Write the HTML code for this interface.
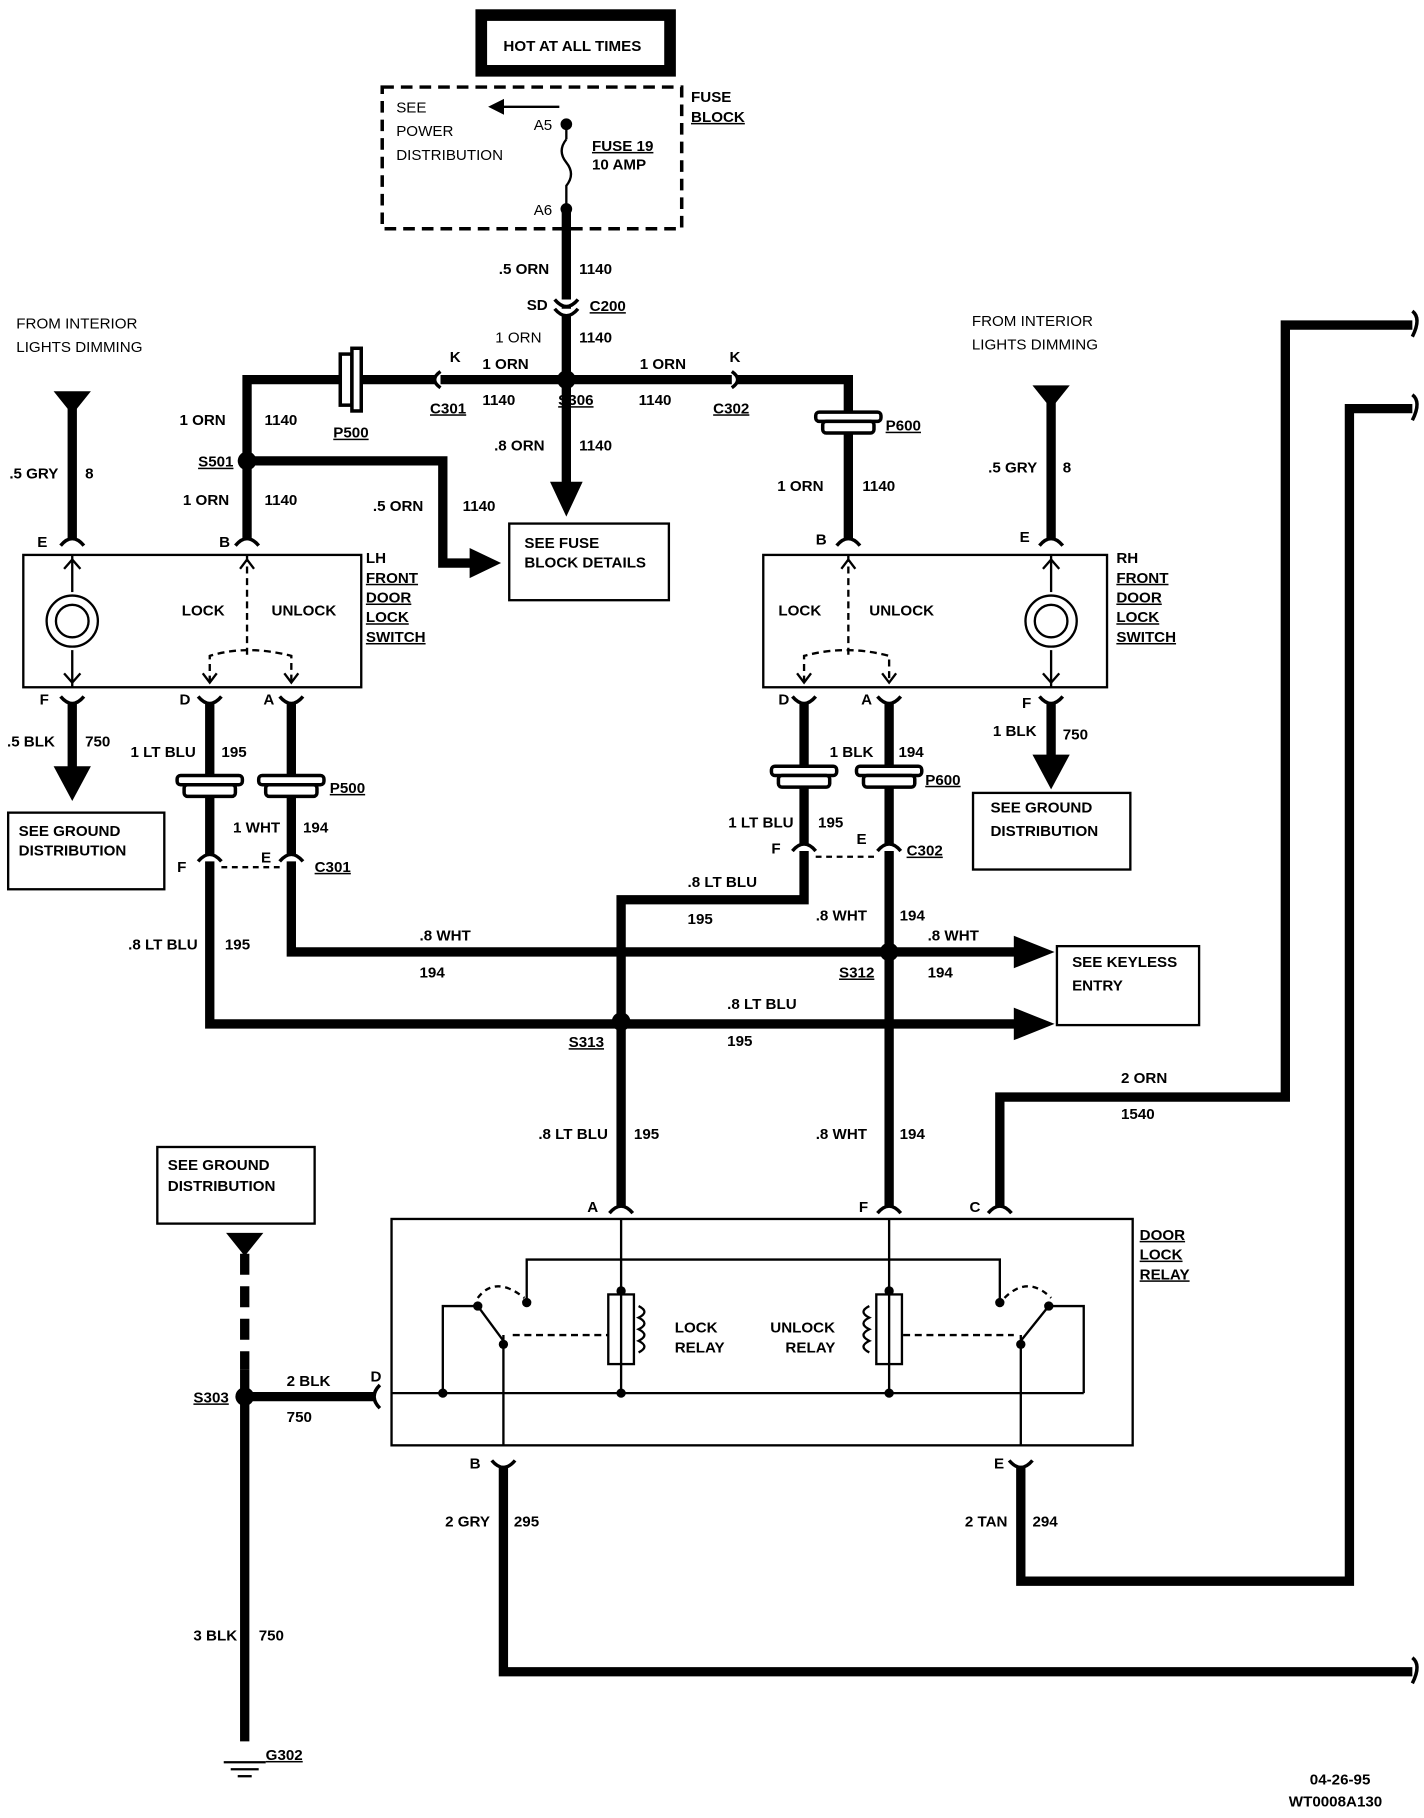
<!DOCTYPE html>
<html><head><meta charset="utf-8"><style>
html,body{margin:0;padding:0;background:#fff;}
svg{display:block;}
text{font-family:"Liberation Sans",sans-serif;font-size:13px;fill:#000;}
.b{font-weight:bold;}
</style></head><body>
<svg width="1424" height="1818" viewBox="0 0 1222 1566" preserveAspectRatio="none">
<g fill="none" stroke="#000">
<rect x="413" y="13" width="162" height="48" stroke-width="10"/>
<rect x="328" y="75" width="257" height="122" stroke-width="3" stroke-dasharray="10,6"/>
<line x1="480" y1="92" x2="428" y2="92" stroke-width="2"/>
<path d="M420,92 l12,-6 v12z" fill="#000"/>
<line x1="486" y1="107" x2="486" y2="120" stroke-width="2"/>
<path d="M486,120 q-8,10 0,20 q8,10 0,20 l0,20" stroke-width="2"/>
<g stroke-width="8">
<line x1="486" y1="180" x2="486" y2="420"/>
<polyline points="212,465 212,327 728,327 728,465"/>
<polyline points="216,397 380,397 380,485 405,485"/>
<line x1="62" y1="345" x2="62" y2="465"/>
<line x1="62" y1="605" x2="62" y2="665"/>
<line x1="902" y1="340" x2="902" y2="465"/>
<line x1="902" y1="605" x2="902" y2="655"/>
<polyline points="180,605 180,882 880,882"/>
<polyline points="250,605 250,820 880,820"/>
<polyline points="690,605 690,775 533,775 533,1040"/>
<line x1="763" y1="605" x2="763" y2="1040"/>
<polyline points="1212,280 1103,280 1103,945 858,945 858,1040"/>
<polyline points="1212,352 1158,352 1158,1362 876,1362 876,1262"/>
<polyline points="1212,1440 432,1440 432,1262"/>
<line x1="210" y1="1180" x2="210" y2="1500"/>
<line x1="210" y1="1080" x2="210" y2="1180" stroke-dasharray="18,10"/>
<line x1="210" y1="1203" x2="322" y2="1203"/>
</g>
<g fill="#000" stroke="none">
<path d="M472,415 h28 l-14,30z"/>
<path d="M403,472 l27,13 l-27,13z"/>
<path d="M46,660 h32 l-16,30z"/>
<path d="M886,650 h32 l-16,30z"/>
<path d="M870,806 l35,14 l-35,14z"/>
<path d="M870,868 l35,14 l-35,14z"/>
<path d="M46,337 h32 l-16,20z"/>
<path d="M886,332 h32 l-16,20z"/>
<path d="M194,1062 h32 l-16,20z"/>
</g>
<g fill="#000" stroke="none">
<circle cx="486" cy="107" r="5"/><circle cx="486" cy="180" r="5"/>
<circle cx="486" cy="327" r="8"/><circle cx="212" cy="397" r="8"/>
<circle cx="533" cy="880" r="8"/><circle cx="763" cy="820" r="8"/>
<circle cx="210" cy="1203" r="8"/>
</g>
<g stroke-width="3">
<path d="M1212,268 q8,6 0,22"/><path d="M1212,340 q8,6 0,22"/><path d="M1212,1428 q8,6 0,22"/>
</g>
<g stroke-width="3" fill="#fff">
<path d="M476,258 q10,12 20,0"/><path d="M476,266 q10,12 20,0"/>
<path d="M378,320 q-10,7 0,14"/><path d="M628,320 q10,7 0,14"/>
<path d="M52,470 q10,-12 20,0"/><path d="M202,470 q10,-12 20,0"/><path d="M718,470 q10,-12 20,0"/><path d="M892,470 q10,-12 20,0"/>
<path d="M52,600 q10,12 20,0"/><path d="M170,600 q10,12 20,0"/><path d="M240,600 q10,12 20,0"/><path d="M680,600 q10,12 20,0"/><path d="M753,600 q10,12 20,0"/><path d="M892,600 q10,12 20,0"/>
<path d="M170,742 q10,-12 20,0"/><path d="M240,742 q10,-12 20,0"/><path d="M680,733 q10,-12 20,0"/><path d="M753,733 q10,-12 20,0"/>
<path d="M523,1045 q10,-12 20,0"/><path d="M753,1045 q10,-12 20,0"/><path d="M848,1045 q10,-12 20,0"/>
<path d="M422,1258 q10,12 20,0"/><path d="M866,1258 q10,12 20,0"/>
<path d="M326,1193 q-10,10 0,20"/>
</g>
<g stroke-width="2" stroke-dasharray="5,4"><line x1="190" y1="747" x2="240" y2="747"/><line x1="700" y1="738" x2="753" y2="738"/></g>
<g stroke-width="3" fill="#fff">
<rect x="292" y="305" width="10" height="44"/><rect x="302" y="300" width="8" height="54"/>
<rect x="700" y="355" width="56" height="8" rx="3"/><rect x="706" y="363" width="44" height="10" rx="3"/>
<rect x="152" y="668" width="56" height="8" rx="3"/><rect x="158" y="676" width="44" height="10" rx="3"/>
<rect x="222" y="668" width="56" height="8" rx="3"/><rect x="228" y="676" width="44" height="10" rx="3"/>
<rect x="662" y="660" width="56" height="8" rx="3"/><rect x="668" y="668" width="44" height="10" rx="3"/>
<rect x="735" y="660" width="56" height="8" rx="3"/><rect x="741" y="668" width="44" height="10" rx="3"/>
</g>
<g stroke-width="2">
<rect x="437" y="451" width="137" height="66"/>
<rect x="7" y="700" width="134" height="66"/>
<rect x="835" y="683" width="135" height="66"/>
<rect x="907" y="815" width="122" height="68"/>
<rect x="135" y="988" width="135" height="66"/>
<rect x="20" y="478" width="290" height="114"/>
<rect x="655" y="478" width="295" height="114"/>
<rect x="336" y="1050" width="636" height="195"/>
</g>
<g stroke-width="2">
<circle cx="62" cy="535" r="22"/><circle cx="62" cy="535" r="14"/>
<line x1="62" y1="478" x2="62" y2="510"/><line x1="62" y1="560" x2="62" y2="592"/>
<polyline points="55,490 62,482 69,490"/><polyline points="55,580 62,588 69,580"/>
<circle cx="902" cy="535" r="22"/><circle cx="902" cy="535" r="14"/>
<line x1="902" y1="478" x2="902" y2="510"/><line x1="902" y1="560" x2="902" y2="592"/>
<polyline points="895,490 902,482 909,490"/><polyline points="895,580 902,588 909,580"/>
<line x1="212" y1="478" x2="212" y2="565" stroke-dasharray="6,4"/>
<path d="M180,588 V565 q32,-10 70,0 V588" stroke-dasharray="6,4"/>
<line x1="728" y1="478" x2="728" y2="565" stroke-dasharray="6,4"/>
<path d="M690,588 V565 q36,-10 73,0 V588" stroke-dasharray="6,4"/>
<polyline points="174,580 180,588 186,580"/><polyline points="244,580 250,588 256,580"/>
<polyline points="684,580 690,588 696,580"/><polyline points="757,580 763,588 769,580"/>
<polyline points="206,490 212,482 218,490"/><polyline points="722,490 728,482 734,490"/>
<polyline points="533,1050 533,1200"/><polyline points="763,1050 763,1200"/>
<polyline points="452,1120 452,1085 858,1085 858,1120"/>
<polyline points="380,1200 380,1125 410,1125"/><polyline points="930,1200 930,1125 900,1125"/>
<line x1="336" y1="1200" x2="930" y2="1200"/>
<line x1="432" y1="1150" x2="432" y2="1245"/><line x1="876" y1="1150" x2="876" y2="1245"/>
<line x1="410" y1="1125" x2="432" y2="1155"/><line x1="900" y1="1125" x2="876" y2="1155"/>
<line x1="440" y1="1150" x2="522" y2="1150" stroke-dasharray="6,4"/><line x1="775" y1="1150" x2="870" y2="1150" stroke-dasharray="6,4"/>
<path d="M410,1118 q15,-20 40,0" stroke-dasharray="5,4"/><path d="M862,1118 q20,-20 40,0" stroke-dasharray="5,4"/>
<rect x="522" y="1115" width="22" height="60"/><rect x="752" y="1115" width="22" height="60"/>
<path d="M548,1125 q10,5 0,10 q10,5 0,10 q10,5 0,10 q10,5 0,10"/>
<path d="M746,1125 q-10,5 0,10 q-10,5 0,10 q-10,5 0,10 q-10,5 0,10"/>
</g>
<g fill="#000" stroke="none"><circle cx="533" cy="1112" r="4"/><circle cx="763" cy="1112" r="4"/><circle cx="452" cy="1122" r="4"/><circle cx="858" cy="1122" r="4"/><circle cx="432" cy="1158" r="4"/><circle cx="876" cy="1158" r="4"/><circle cx="380" cy="1200" r="4"/><circle cx="533" cy="1200" r="4"/><circle cx="763" cy="1200" r="4"/><circle cx="410" cy="1125" r="4"/><circle cx="900" cy="1125" r="4"/></g>
<g stroke-width="2"><line x1="192" y1="1518" x2="228" y2="1518"/><line x1="198" y1="1524" x2="222" y2="1524"/><line x1="204" y1="1530" x2="216" y2="1530"/></g>
</g>
<g>
<text x="432" y="44" class="b">HOT AT ALL TIMES</text>
<text x="340" y="97">SEE</text><text x="340" y="117">POWER</text><text x="340" y="138">DISTRIBUTION</text>
<text x="458" y="112">A5</text><text x="458" y="185">A6</text>
<text x="508" y="130" class="b" text-decoration="underline">FUSE 19</text><text x="508" y="146" class="b">10 AMP</text>
<text x="593" y="88" class="b">FUSE</text><text x="593" y="105" class="b" text-decoration="underline">BLOCK</text>
<text x="428" y="236" class="b">.5 ORN</text><text x="497" y="236" class="b">1140</text>
<text x="452" y="267" class="b">SD</text><text x="506" y="268" class="b" text-decoration="underline">C200</text>
<text x="425" y="295">1 ORN</text><text x="497" y="295" class="b">1140</text>
<text x="386" y="312" class="b">K</text><text x="626" y="312" class="b">K</text>
<text x="414" y="318" class="b">1 ORN</text><text x="549" y="318" class="b">1 ORN</text>
<text x="369" y="356" class="b" text-decoration="underline">C301</text><text x="414" y="349" class="b">1140</text>
<text x="479" y="349" class="b" text-decoration="underline">S306</text><text x="548" y="349" class="b">1140</text>
<text x="612" y="356" class="b" text-decoration="underline">C302</text>
<text x="286" y="377" class="b" text-decoration="underline">P500</text><text x="760" y="371" class="b" text-decoration="underline">P600</text>
<text x="424" y="388" class="b">.8 ORN</text><text x="497" y="388" class="b">1140</text>
<text x="14" y="283">FROM INTERIOR</text><text x="14" y="303">LIGHTS DIMMING</text>
<text x="834" y="281">FROM INTERIOR</text><text x="834" y="301">LIGHTS DIMMING</text>
<text x="154" y="366" class="b">1 ORN</text><text x="227" y="366" class="b">1140</text>
<text x="170" y="402" class="b" text-decoration="underline">S501</text>
<text x="157" y="435" class="b">1 ORN</text><text x="227" y="435" class="b">1140</text>
<text x="320" y="440" class="b">.5 ORN</text><text x="397" y="440" class="b">1140</text>
<text x="8" y="412" class="b">.5 GRY</text><text x="73" y="412" class="b">8</text>
<text x="848" y="407" class="b">.5 GRY</text><text x="912" y="407" class="b">8</text>
<text x="667" y="423" class="b">1 ORN</text><text x="740" y="423" class="b">1140</text>
<text x="450" y="472" class="b">SEE FUSE</text><text x="450" y="489" class="b">BLOCK DETAILS</text>
<text x="32" y="471" class="b">E</text><text x="188" y="471" class="b">B</text><text x="700" y="469" class="b">B</text><text x="875" y="467" class="b">E</text>
<text x="314" y="485" class="b">LH</text><text x="314" y="502" class="b" text-decoration="underline">FRONT</text><text x="314" y="519" class="b" text-decoration="underline">DOOR</text><text x="314" y="536" class="b" text-decoration="underline">LOCK</text><text x="314" y="553" class="b" text-decoration="underline">SWITCH</text>
<text x="958" y="485" class="b">RH</text><text x="958" y="502" class="b" text-decoration="underline">FRONT</text><text x="958" y="519" class="b" text-decoration="underline">DOOR</text><text x="958" y="536" class="b" text-decoration="underline">LOCK</text><text x="958" y="553" class="b" text-decoration="underline">SWITCH</text>
<text x="156" y="530" class="b">LOCK</text><text x="233" y="530" class="b">UNLOCK</text>
<text x="668" y="530" class="b">LOCK</text><text x="746" y="530" class="b">UNLOCK</text>
<text x="34" y="607" class="b">F</text><text x="154" y="607" class="b">D</text><text x="226" y="607" class="b">A</text>
<text x="668" y="607" class="b">D</text><text x="739" y="607" class="b">A</text><text x="877" y="610" class="b">F</text>
<text x="6" y="643" class="b">.5 BLK</text><text x="73" y="643" class="b">750</text>
<text x="852" y="634" class="b">1 BLK</text><text x="912" y="637" class="b">750</text>
<text x="112" y="652" class="b">1 LT BLU</text><text x="190" y="652" class="b">195</text>
<text x="712" y="652" class="b">1 BLK</text><text x="771" y="652" class="b">194</text>
<text x="283" y="683" class="b" text-decoration="underline">P500</text><text x="794" y="676" class="b" text-decoration="underline">P600</text>
<text x="850" y="700" class="b">SEE GROUND</text><text x="850" y="720" class="b">DISTRIBUTION</text>
<text x="16" y="720" class="b">SEE GROUND</text><text x="16" y="737" class="b">DISTRIBUTION</text>
<text x="200" y="717" class="b">1 WHT</text><text x="260" y="717" class="b">194</text>
<text x="625" y="713" class="b">1 LT BLU</text><text x="702" y="713" class="b">195</text>
<text x="735" y="727" class="b">E</text><text x="662" y="735" class="b">F</text>
<text x="778" y="737" class="b" text-decoration="underline">C302</text>
<text x="152" y="751" class="b">F</text><text x="224" y="743" class="b">E</text><text x="270" y="751" class="b" text-decoration="underline">C301</text>
<text x="590" y="764" class="b">.8 LT BLU</text><text x="590" y="796" class="b">195</text>
<text x="700" y="793" class="b">.8 WHT</text><text x="772" y="793" class="b">194</text>
<text x="360" y="810" class="b">.8 WHT</text><text x="360" y="842" class="b">194</text>
<text x="796" y="810" class="b">.8 WHT</text><text x="796" y="842" class="b">194</text>
<text x="720" y="842" class="b" text-decoration="underline">S312</text>
<text x="110" y="818" class="b">.8 LT BLU</text><text x="193" y="818" class="b">195</text>
<text x="920" y="833" class="b">SEE KEYLESS</text><text x="920" y="853" class="b">ENTRY</text>
<text x="624" y="869" class="b">.8 LT BLU</text><text x="624" y="901" class="b">195</text>
<text x="488" y="902" class="b" text-decoration="underline">S313</text>
<text x="962" y="933" class="b">2 ORN</text><text x="962" y="964" class="b">1540</text>
<text x="462" y="981" class="b">.8 LT BLU</text><text x="544" y="981" class="b">195</text>
<text x="700" y="981" class="b">.8 WHT</text><text x="772" y="981" class="b">194</text>
<text x="144" y="1008" class="b">SEE GROUND</text><text x="144" y="1026" class="b">DISTRIBUTION</text>
<text x="504" y="1044" class="b">A</text><text x="737" y="1044" class="b">F</text><text x="832" y="1044" class="b">C</text>
<text x="978" y="1068" class="b" text-decoration="underline">DOOR</text><text x="978" y="1085" class="b" text-decoration="underline">LOCK</text><text x="978" y="1102" class="b" text-decoration="underline">RELAY</text>
<text x="579" y="1148" class="b">LOCK</text><text x="579" y="1165" class="b">RELAY</text>
<text x="661" y="1148" class="b">UNLOCK</text><text x="674" y="1165" class="b">RELAY</text>
<text x="246" y="1194" class="b">2 BLK</text><text x="246" y="1225" class="b">750</text><text x="318" y="1190" class="b">D</text>
<text x="166" y="1208" class="b" text-decoration="underline">S303</text>
<text x="403" y="1265" class="b">B</text><text x="853" y="1265" class="b">E</text>
<text x="382" y="1315" class="b">2 GRY</text><text x="441" y="1315" class="b">295</text>
<text x="828" y="1315" class="b">2 TAN</text><text x="886" y="1315" class="b">294</text>
<text x="166" y="1413" class="b">3 BLK</text><text x="222" y="1413" class="b">750</text>
<text x="228" y="1516" class="b" text-decoration="underline">G302</text>
<text x="1124" y="1537" class="b">04-26-95</text><text x="1106" y="1556" class="b">WT0008A130</text>
</g>
</svg>
</body></html>
